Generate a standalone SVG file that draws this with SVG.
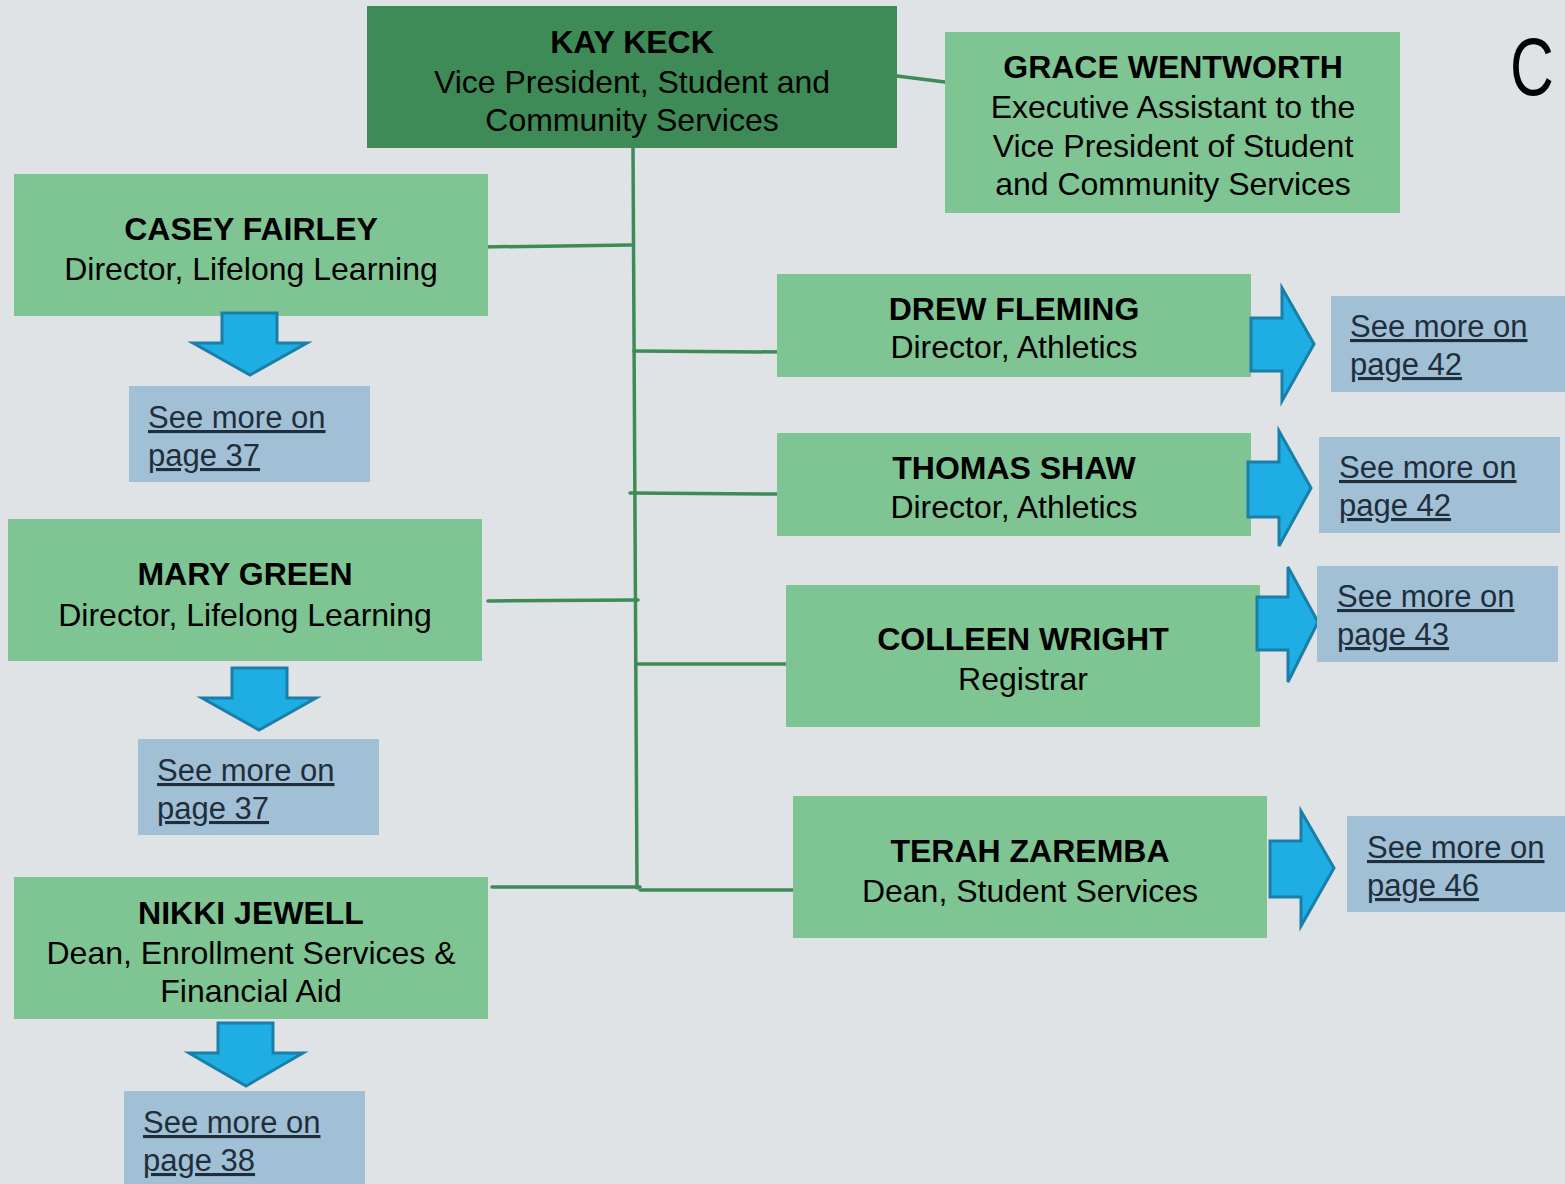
<svg xmlns="http://www.w3.org/2000/svg" width="1565" height="1184" viewBox="0 0 1565 1184">
  <style>
    .bg { fill: #dfe3e6; }
    .head { fill: #3e8b57; }
    .box { fill: #7fc593; }
    .link { fill: #a1c0d6; }
    .name { font-family: "Liberation Sans", Arial, sans-serif; font-weight: bold; font-size: 32px; fill: #000; text-anchor: middle; }
    .role { font-family: "Liberation Sans", Arial, sans-serif; font-size: 32px; fill: #000; text-anchor: middle; }
    .ref { font-family: "Liberation Sans", Arial, sans-serif; font-size: 31px; fill: #1f2e3b; text-decoration: underline; }
    .arrow { fill: #1eaee4; stroke: #1a7fa8; stroke-width: 3; stroke-linejoin: miter; }
    .wire { stroke: #3e8b57; stroke-width: 3.5; fill: none; stroke-linecap: round; }
  </style>

  <rect class="bg" x="0" y="0" width="1565" height="1184"/>

  <!-- Connectors -->
  <g id="connectors">
    <line class="wire" x1="897" y1="76" x2="945" y2="82"/>
    <line class="wire" x1="633" y1="148" x2="637" y2="888"/>
    <line class="wire" x1="480" y1="247" x2="631" y2="245"/>
    <line class="wire" x1="634" y1="351" x2="782" y2="352"/>
    <line class="wire" x1="630" y1="493" x2="777" y2="494"/>
    <line class="wire" x1="488" y1="601" x2="638" y2="600"/>
    <line class="wire" x1="636" y1="664" x2="792" y2="664"/>
    <line class="wire" x1="492" y1="887" x2="640" y2="887"/>
    <line class="wire" x1="640" y1="890" x2="794" y2="890"/>
  </g>

  <!-- Vice President -->
  <g id="kay-keck">
    <rect class="head" x="367" y="6" width="530" height="142"/>
    <text class="name" x="632" y="53">KAY KECK</text>
    <text class="role" x="632" y="93">Vice President, Student and</text>
    <text class="role" x="632" y="131">Community Services</text>
  </g>

  <g id="grace-wentworth">
    <rect class="box" x="945" y="32" width="455" height="181"/>
    <text class="name" x="1173" y="78">GRACE WENTWORTH</text>
    <text class="role" x="1173" y="118">Executive Assistant to the</text>
    <text class="role" x="1173" y="157">Vice President of Student</text>
    <text class="role" x="1173" y="195">and Community Services</text>
  </g>

  <!-- Large letter at the top-right corner, horizontally condensed -->
  <text transform="translate(1510,95) scale(0.74,1)" font-family="'Liberation Sans', Arial, sans-serif" font-size="82" fill="#000">C</text>

  <!-- Left column -->
  <g id="casey-fairley">
    <rect class="box" x="14" y="174" width="474" height="142"/>
    <text class="name" x="251" y="240">CASEY FAIRLEY</text>
    <text class="role" x="251" y="280">Director, Lifelong Learning</text>
  </g>
  <g id="casey-ref">
    <polygon class="arrow" points="222,313 277,313 277,343 307,343 250,375 193,343 222,343"/>
    <rect class="link" x="129" y="386" width="241" height="96"/>
    <text class="ref" x="148" y="428">See more on</text>
    <text class="ref" x="148" y="466">page 37</text>
  </g>

  <g id="mary-green">
    <rect class="box" x="8" y="519" width="474" height="142"/>
    <text class="name" x="245" y="585">MARY GREEN</text>
    <text class="role" x="245" y="626">Director, Lifelong Learning</text>
  </g>
  <g id="mary-ref">
    <polygon class="arrow" points="232,668 287,668 287,698 316,698 259,730 202,698 232,698"/>
    <rect class="link" x="138" y="739" width="241" height="96"/>
    <text class="ref" x="157" y="781">See more on</text>
    <text class="ref" x="157" y="819">page 37</text>
  </g>

  <g id="nikki-jewell">
    <rect class="box" x="14" y="877" width="474" height="142"/>
    <text class="name" x="251" y="924">NIKKI JEWELL</text>
    <text class="role" x="251" y="964">Dean, Enrollment Services &amp;</text>
    <text class="role" x="251" y="1002">Financial Aid</text>
  </g>
  <g id="nikki-ref">
    <polygon class="arrow" points="218,1023 273,1023 273,1053 303,1053 246,1086 189,1053 218,1053"/>
    <rect class="link" x="124" y="1091" width="241" height="100"/>
    <text class="ref" x="143" y="1133">See more on</text>
    <text class="ref" x="143" y="1171">page 38</text>
  </g>

  <!-- Right column -->
  <g id="drew-fleming">
    <rect class="box" x="777" y="274" width="474" height="103"/>
    <text class="name" x="1014" y="320">DREW FLEMING</text>
    <text class="role" x="1014" y="358">Director, Athletics</text>
  </g>
  <g id="drew-ref">
    <polygon class="arrow" points="1251,318 1282,318 1282,288 1314,344 1282,401 1282,371 1251,371"/>
    <rect class="link" x="1331" y="296" width="234" height="96"/>
    <text class="ref" x="1350" y="337">See more on</text>
    <text class="ref" x="1350" y="375">page 42</text>
  </g>

  <g id="thomas-shaw">
    <rect class="box" x="777" y="433" width="474" height="103"/>
    <text class="name" x="1014" y="479">THOMAS SHAW</text>
    <text class="role" x="1014" y="518">Director, Athletics</text>
  </g>
  <g id="thomas-ref">
    <polygon class="arrow" points="1248,462 1279,462 1279,431 1311,488 1279,546 1279,517 1248,517"/>
    <rect class="link" x="1319" y="437" width="241" height="96"/>
    <text class="ref" x="1339" y="478">See more on</text>
    <text class="ref" x="1339" y="516">page 42</text>
  </g>

  <g id="colleen-wright">
    <rect class="box" x="786" y="585" width="474" height="142"/>
    <text class="name" x="1023" y="650">COLLEEN WRIGHT</text>
    <text class="role" x="1023" y="690">Registrar</text>
  </g>
  <g id="colleen-ref">
    <polygon class="arrow" points="1257,597 1288,597 1288,567 1318,622 1288,682 1288,650 1257,650"/>
    <rect class="link" x="1317" y="566" width="241" height="96"/>
    <text class="ref" x="1337" y="607">See more on</text>
    <text class="ref" x="1337" y="645">page 43</text>
  </g>

  <g id="terah-zaremba">
    <rect class="box" x="793" y="796" width="474" height="142"/>
    <text class="name" x="1030" y="862">TERAH ZAREMBA</text>
    <text class="role" x="1030" y="902">Dean, Student Services</text>
  </g>
  <g id="terah-ref">
    <polygon class="arrow" points="1270,841 1301,841 1301,811 1334,868 1301,926 1301,897 1270,897"/>
    <rect class="link" x="1347" y="816" width="218" height="96"/>
    <text class="ref" x="1367" y="858">See more on</text>
    <text class="ref" x="1367" y="896">page 46</text>
  </g>
</svg>
